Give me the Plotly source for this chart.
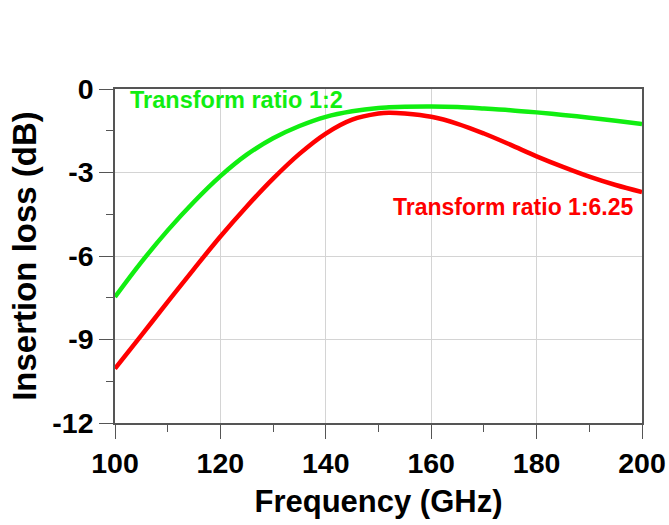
import plotly.graph_objects as go

freq = [100, 105, 110, 115, 120, 125, 130, 135, 140, 145, 150, 152, 155, 160, 165, 170, 175, 180, 185, 190, 195, 200]
loss_1_2 = [-7.47, -6.22, -5.08, -4.05, -3.13, -2.36, -1.77, -1.33, -1.0, -0.8, -0.68, -0.66, -0.64, -0.63, -0.65, -0.7, -0.76, -0.84, -0.93, -1.03, -1.14, -1.26]
loss_1_625 = [-10.05, -8.85, -7.65, -6.46, -5.3, -4.22, -3.22, -2.33, -1.6, -1.1, -0.88, -0.85, -0.88, -1.0, -1.25, -1.6, -2.0, -2.42, -2.8, -3.15, -3.45, -3.7]

x_ticks = [100, 120, 140, 160, 180, 200]
y_ticks = [0, -3, -6, -9, -12]
y_tick_text = ["0", "-3", "-6", "-9", "-12"]

FONT = "Liberation Sans, Arial, sans-serif"
AXIS_COLOR = "#555555"
GRID_COLOR = "#d4d4d4"

fig = go.Figure()
fig.add_trace(go.Scatter(x=freq, y=loss_1_2, mode="lines", line=dict(color="#11ee11", width=4.5, shape="spline"), showlegend=False, cliponaxis=False))
fig.add_trace(go.Scatter(x=freq, y=loss_1_625, mode="lines", line=dict(color="#ff0000", width=4.5, shape="spline"), showlegend=False, cliponaxis=False))

fig.add_annotation(x=102.5, y=-0.4, xref="x", yref="y", text="<b>Transform ratio 1:2</b>", showarrow=False,
                   xanchor="left", yanchor="middle", font=dict(family=FONT, size=23.5, color="#11ee11"))
fig.add_annotation(x=198.8, y=-4.24, xref="x", yref="y", text="<b>Transform ratio 1:6.25</b>", showarrow=False,
                   xanchor="right", yanchor="middle", font=dict(family=FONT, size=23, color="#ff0000"))

axis_common = dict(
    showline=True, linecolor=AXIS_COLOR, linewidth=1.5, mirror=True,
    ticks="outside", ticklen=14, tickwidth=1.2, tickcolor=AXIS_COLOR,
    showgrid=True, gridcolor=GRID_COLOR, gridwidth=1, zeroline=False, automargin=False,
    tickfont=dict(family=FONT, size=28.5, color="black", weight="bold"),
)

fig.update_xaxes(range=[100, 200], tickmode="array", tickvals=x_ticks,
                 minor=dict(dtick=10, tick0=100, ticks="outside", ticklen=7, tickcolor=AXIS_COLOR, showgrid=False),
                 title=dict(text="Frequency (GHz)", font=dict(family=FONT, size=31, color="black", weight="bold"), standoff=12),
                 **axis_common)
fig.update_yaxes(range=[-12, 0], tickmode="array", tickvals=y_ticks, ticktext=y_tick_text,
                 minor=dict(dtick=1.5, tick0=0, ticks="outside", ticklen=7, tickcolor=AXIS_COLOR, showgrid=False),
                 title=dict(text="Insertion loss (dB)", font=dict(family=FONT, size=33, color="black", weight="bold"), standoff=6),
                 **axis_common)

fig.update_layout(width=669, height=525, margin=dict(l=115, r=27, t=89, b=102),
                  plot_bgcolor="white", paper_bgcolor="white")

fig.write_html("out.html")
